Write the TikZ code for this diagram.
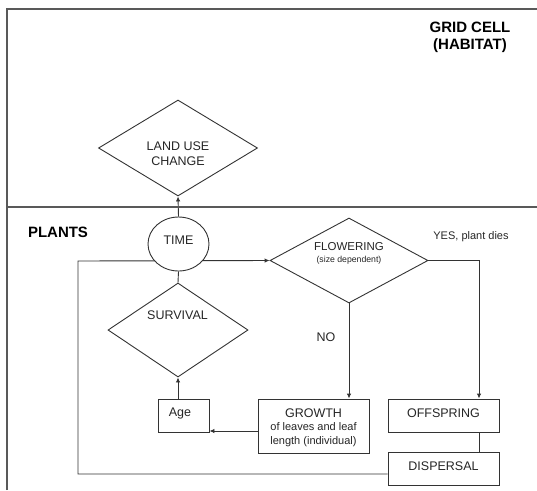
\documentclass[tikz,border=0pt]{standalone}
\usepackage{fontspec}
\setmainfont{Liberation Sans}
\usetikzlibrary{shapes.geometric,arrows.meta,backgrounds}
\begin{document}
\begin{tikzpicture}[x=1pt,y=-1pt,
  frame/.style={draw=black!65,line width=1.3pt},
  conn/.style={draw=black!80,line width=0.9pt},
  arr/.style={conn,-{Latex[length=5pt,width=4.5pt]}},
  dia/.style={diamond,draw=black!80,line width=0.9pt,inner sep=0pt,fill=white},
  box/.style={rectangle,draw=black!80,line width=0.9pt,inner sep=0pt,fill=white},
  lbl/.style={font=\fontsize{12.5}{15}\selectfont,text=black!85,inner sep=0pt},
  small/.style={font=\fontsize{11}{14}\selectfont,text=black!85,inner sep=0pt},
  head/.style={font=\bfseries\fontsize{15}{17}\selectfont,inner sep=0pt}]
\useasboundingbox (0,0) rectangle (537,490);
% frame
\draw[frame] (7,490) -- (7,9) -- (537,9);
\draw[frame] (7,207) -- (537,207);
% headings
\node[head,align=center] (grid) at (470,37.5) {GRID CELL\\(HABITAT)};
\node[head] (plants) at (58,232) {PLANTS};
% shapes
\node[dia,minimum width=159,minimum height=96] (luc) at (178,148) {};
\node[lbl,align=center] (luct) at (178,154) {LAND USE\\CHANGE};
\node[ellipse,draw=black!80,line width=0.9pt,fill=white,minimum width=61,minimum height=54,inner sep=0pt] (time) at (178.5,244) {};
\node[lbl] (timet) at (178.5,240) {TIME};
\node[dia,minimum width=158,minimum height=85] (flow) at (349,260.5) {};
\node[lbl,font=\fontsize{11.5}{13}\selectfont] (flowt) at (349,247) {FLOWERING};
\node[lbl,font=\fontsize{8.7}{10}\selectfont] (flows) at (349,260) {(size dependent)};
\node[small] (yes) at (471,237) {YES, plant dies};
\node[dia,minimum width=140,minimum height=94] (surv) at (178,330) {};
\node[lbl] (survt) at (177.5,315) {SURVIVAL};
\node[lbl] (no) at (326,337) {NO};
\node[box,minimum width=51,minimum height=33] (age) at (183.5,415.5) {};
\node[lbl] (aget) at (180,413) {Age};
\node[box,minimum width=111,minimum height=54] (growth) at (313.5,426) {};
\node[lbl,align=center] (growtht) at (313.5,413) {GROWTH};
\node[small,align=center] (growths) at (313.5,435) {of leaves and leaf\\length (individual)};
\node[box,minimum width=111,minimum height=33] (off) at (443.5,415.5) {};
\node[lbl] (offt) at (443.5,413) {OFFSPRING};
\node[box,minimum width=111,minimum height=33] (disp) at (443.5,468.5) {};
\node[lbl] (dispt) at (443.5,466) {DISPERSAL};
\coordinate (loop) at (78,261);
% connectors
\begin{scope}[on background layer]
\draw[arr] (time.north) -- (luc.south);
\draw[conn] (surv.north) -- (time.south);
\draw[arr] (age.north -| surv.south) -- (surv.south);
\draw[arr] ([yshift=-5pt]growth.west) -- ([yshift=-5pt]growth.west -| age.east);
\draw[arr] (flow.south) -- (flow.south |- growth.north);
\draw[arr] (flow.east) -| ([xshift=35.5pt]off.north);
\draw[conn] ([xshift=35.5pt]off.south) -- ([xshift=35.5pt]disp.north);
\draw[arr] ([yshift=-5.5pt]disp.west) -| (loop) -- (flow.west);
\end{scope}
\end{tikzpicture}
\end{document}
